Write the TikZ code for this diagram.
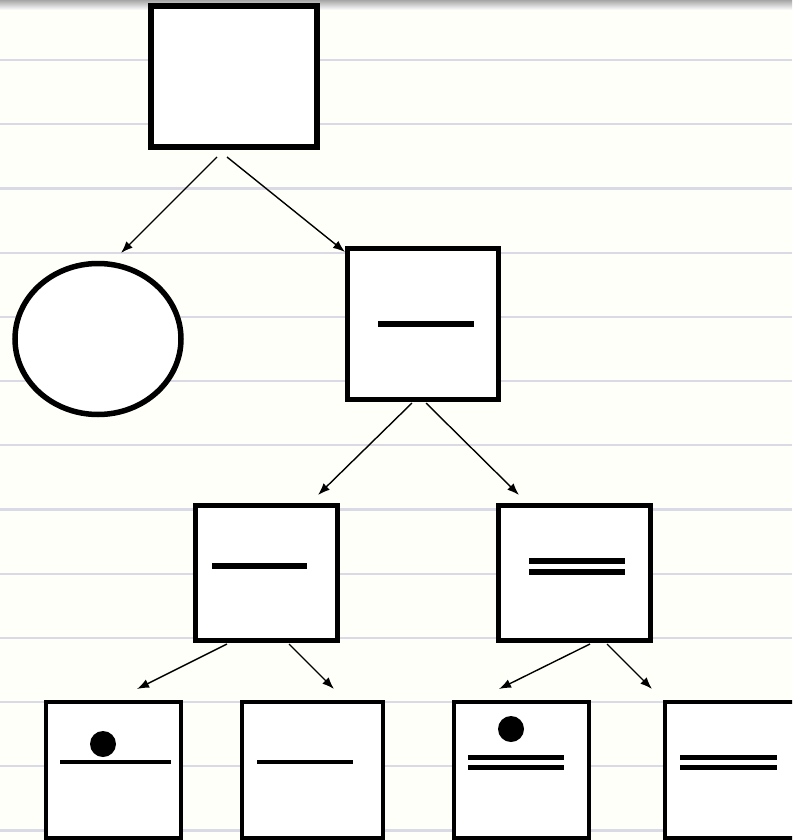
\documentclass[tikz,border=0pt]{standalone}
\usepackage{tikz}
\usetikzlibrary{arrows.meta,
                positioning,
                shapes.geometric}
\definecolor{rulecol}{RGB}{218,218,230}

\begin{document}
\begin{tikzpicture}[x=1pt,y=-1pt,
  box/.style={draw,fill=white,line width=5.5pt,inner sep=0pt,outer sep=0pt},
  leaf/.style={box,line width=4.5pt,minimum height=136pt},
  arr/.style={-{Latex[length=12pt,width=9pt]},line width=1.4pt},
  rule/.style={rulecol,line width=2.2pt}]
\useasboundingbox (0,0) rectangle (792,840);
\clip (0,0) rectangle (792,840);
\fill[white!98!yellow] (0,0) rectangle (792,840);
\shade[top color=gray!70,bottom color=white] (0,0) rectangle (792,10);
\foreach \k in {0,...,12}
  \draw[rule] (0,60+64.2*\k) -- (792,60+64.2*\k);

% nodes of the tree
\node[box,minimum width=166pt,minimum height=141pt] (root) at (234,76.5) {};
\node[box,ellipse,minimum width=166pt,minimum height=151pt] (circ) at (98,339) {};
\node[box,minimum width=151pt,minimum height=151pt] (bar) at (423,324) {};
\node[box,minimum width=142pt,minimum height=135pt] (barL) at (266.5,573) {};
\node[box,minimum width=152pt,minimum height=135pt] (barR) at (574.5,573) {};
\node[leaf,minimum width=135pt] (dotbar) at (113.5,770) {};
\node[leaf,minimum width=141pt] (onebar) at (312.5,770) {};
\node[leaf,minimum width=135pt] (dotdbar) at (521.5,770) {};
\node[leaf,minimum width=140pt] (dbar) at (735,770) {};

% marks inside the boxes
\draw[line width=6pt] (378,324) -- (474,324);
\draw[line width=6pt] (212,566) -- (307,566);
\foreach \y in {561,572}
  \draw[line width=5.2pt] (529,\y) -- (625,\y);
\draw[line width=4.5pt] (60,762) -- (171,762);
\fill (103,744) circle (13pt);
\draw[line width=4.5pt] (257,762) -- (353,762);
\fill (511,729) circle (13pt);
\foreach \y in {757,767}{
  \draw[line width=5pt] (468,\y) -- (564,\y);
  \draw[line width=5pt] (680,\y) -- (777,\y);}

% arrows
\draw[arr] ([xshift=-17pt,yshift=-10pt]root.south) -- ([xshift=23pt,yshift=10.5pt]circ.north);
\draw[arr] ([xshift=-7pt,yshift=-10pt]root.south) -- ([xshift=-2.5pt,yshift=-3.5pt]bar.north west);
\draw[arr] ([xshift=-11pt,yshift=-3.5pt]bar.south) -- ([xshift=51.5pt,yshift=10.5pt]barL.north);
\draw[arr] ([xshift=3pt,yshift=-3.5pt]bar.south) -- ([xshift=-55.5pt,yshift=10.5pt]barR.north);
\draw[arr] ([xshift=-39.5pt,yshift=-3.5pt]barL.south) -- ([xshift=23.5pt,yshift=13pt]dotbar.north);
\draw[arr] ([xshift=22.5pt,yshift=-3.5pt]barL.south) -- ([xshift=21.5pt,yshift=13pt]onebar.north);
\draw[arr] ([xshift=15.5pt,yshift=-3.5pt]barR.south) -- ([xshift=-22.5pt,yshift=13pt]dotdbar.north);
\draw[arr] ([xshift=32.5pt,yshift=-3.5pt]barR.south) -- ([xshift=-83pt,yshift=13pt]dbar.north);
\end{tikzpicture}
\end{document}
